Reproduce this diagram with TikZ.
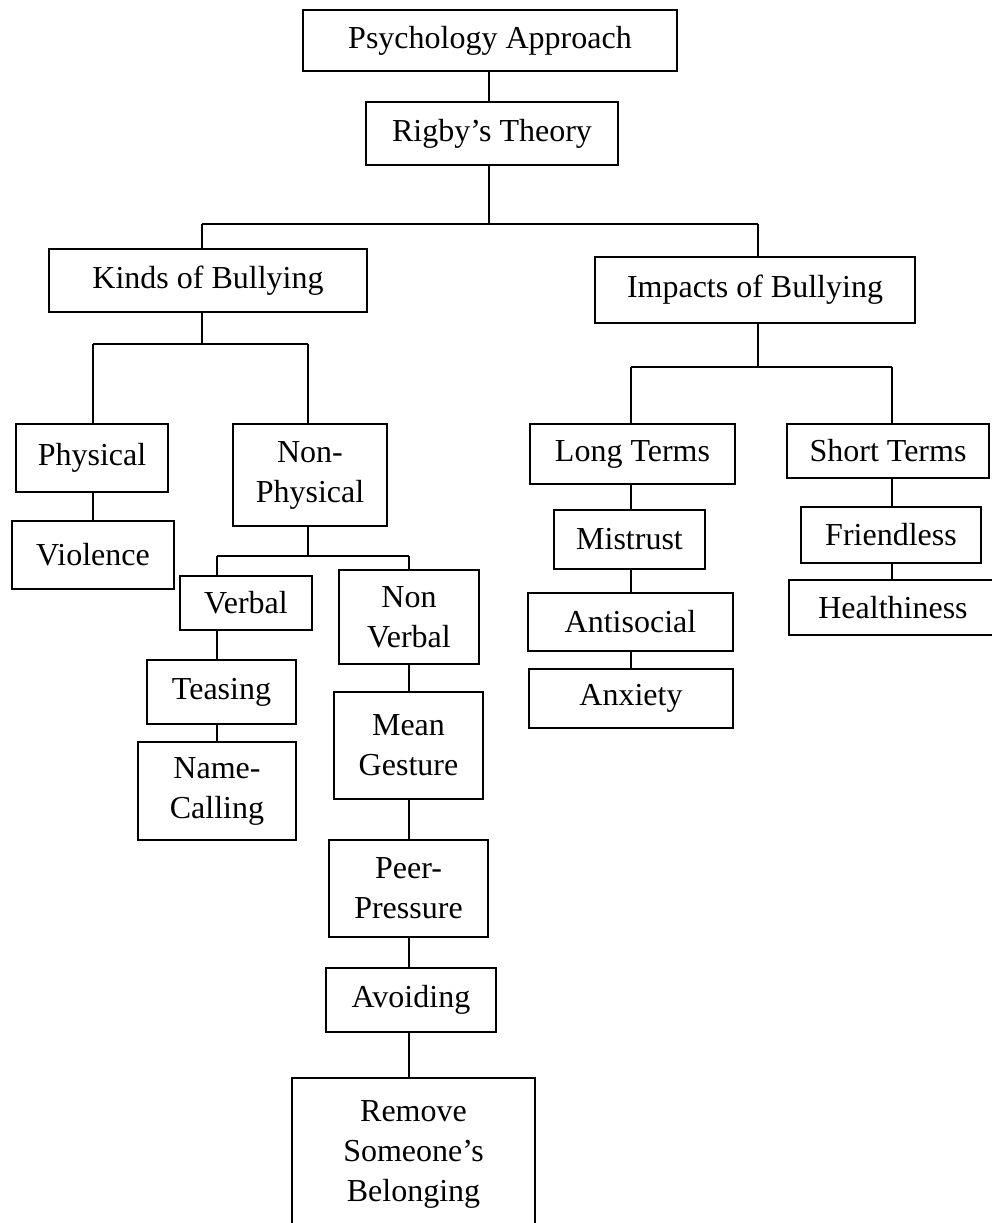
\documentclass[tikz,border=0pt]{standalone}
\usepackage{fontspec}
\setmainfont{Liberation Serif}
\tikzset{
  box/.style 2 args={draw, line width=2.6pt, align=center, inner sep=0pt,
    minimum width=#1, minimum height=#2, font=\fontsize{32}{40}\selectfont},
  link/.style={line width=1.2pt}
}
\begin{document}
\begin{tikzpicture}[x=1pt, y=-1pt]
    \useasboundingbox (0,0) rectangle (992,1223);
    \node[box={374pt}{61pt}] (psy) at (490,40.5) {Psychology Approach};
    \node[box={252pt}{63pt}] (rigby) at (492,133.5) {Rigby’s Theory};
    \node[box={318pt}{63pt}] (kinds) at (208,280.5) {Kinds of Bullying};
    \node[box={320pt}{66pt}] (impacts) at (755,290) {Impacts of Bullying};
    \node[box={152pt}{68pt}] (phys) at (92,458) {Physical};
    \node[box={162pt}{68pt}] (violence) at (93,555) {Violence};
    \node[box={154pt}{102pt}] (nonphys) at (310,475) {Non-\\Physical};
    \node[box={132pt}{54pt}] (verbal) at (246,603) {Verbal};
    \node[box={149pt}{64pt}] (teasing) at (221.5,692) {Teasing};
    \node[box={158pt}{98pt}] (namecall) at (217,791) {Name-\\Calling};
    \node[box={140pt}{94pt}] (nonverbal) at (409,617) {Non\\Verbal};
    \node[box={149pt}{107pt}] (gesture) at (408.5,745.5) {Mean\\Gesture};
    \node[box={159pt}{97pt}] (peer) at (408.5,888.5) {Peer-\\Pressure};
    \node[box={170pt}{64pt}] (avoid) at (411,1000) {Avoiding};
    \node[box={243pt}{152pt}] (remove) at (413.5,1154) {Remove\\Someone’s\\Belonging};
    \node[box={205pt}{60pt}] (longt) at (632.5,454) {Long Terms};
    \node[box={151pt}{59pt}] (mistrust) at (629.5,539.5) {Mistrust};
    \node[box={205pt}{58pt}] (antisoc) at (630.5,622) {Antisocial};
    \node[box={204pt}{59pt}] (anxiety) at (631,698.5) {Anxiety};
    \node[box={202pt}{54pt}] (shortt) at (888,451) {Short Terms};
    \node[box={180pt}{56pt}] (friendless) at (891,535) {Friendless};
    \node[box={208pt}{55pt}] (health) at (893,607.5) {Healthiness};
    \coordinate (b1l) at (202,224);
    \coordinate (b1r) at (758,224);
    \coordinate (b2l) at (93,344);
    \coordinate (b2r) at (308,344);
    \coordinate (b3l) at (217,556);
    \coordinate (b3r) at (409,556);
    \coordinate (b4l) at (631,367);
    \coordinate (b4r) at (892,367);
    \draw[link] (psy.south -| 489,0) -- (rigby.north -| 489,0);
    \draw[link] (rigby.south -| 489,0) -- (489,224);
    \draw[link] (b1l) -- (b1r);
    \draw[link] (b1l) -- (b1l |- kinds.north);
    \draw[link] (b1r) -- (b1r |- impacts.north);
    \draw[link] (kinds.south -| b1l) -- (b1l |- b2l);
    \draw[link] (b2l) -- (b2r);
    \draw[link] (b2l) -- (b2l |- phys.north);
    \draw[link] (b2r) -- (b2r |- nonphys.north);
    \draw[link] (phys.south -| b2l) -- (violence.north -| b2l);
    \draw[link] (nonphys.south -| b2r) -- (b2r |- b3r);
    \draw[link] (b3l) -- (b3r);
    \draw[link] (b3l) -- (b3l |- verbal.north);
    \draw[link] (b3r) -- (b3r |- nonverbal.north);
    \draw[link] (verbal.south -| b3l) -- (teasing.north -| b3l);
    \draw[link] (teasing.south -| b3l) -- (namecall.north -| b3l);
    \draw[link] (nonverbal.south -| b3r) -- (gesture.north -| b3r);
    \draw[link] (gesture.south -| b3r) -- (peer.north -| b3r);
    \draw[link] (peer.south -| b3r) -- (avoid.north -| b3r);
    \draw[link] (avoid.south -| b3r) -- (remove.north -| b3r);
    \draw[link] (impacts.south -| b1r) -- (b1r |- b4r);
    \draw[link] (b4l) -- (b4r);
    \draw[link] (b4l) -- (b4l |- longt.north);
    \draw[link] (b4r) -- (b4r |- shortt.north);
    \draw[link] (longt.south -| b4l) -- (mistrust.north -| b4l);
    \draw[link] (mistrust.south -| b4l) -- (antisoc.north -| b4l);
    \draw[link] (antisoc.south -| b4l) -- (anxiety.north -| b4l);
    \draw[link] (shortt.south -| b4r) -- (friendless.north -| b4r);
    \draw[link] (friendless.south -| b4r) -- (health.north -| b4r);
\end{tikzpicture}
\end{document}
